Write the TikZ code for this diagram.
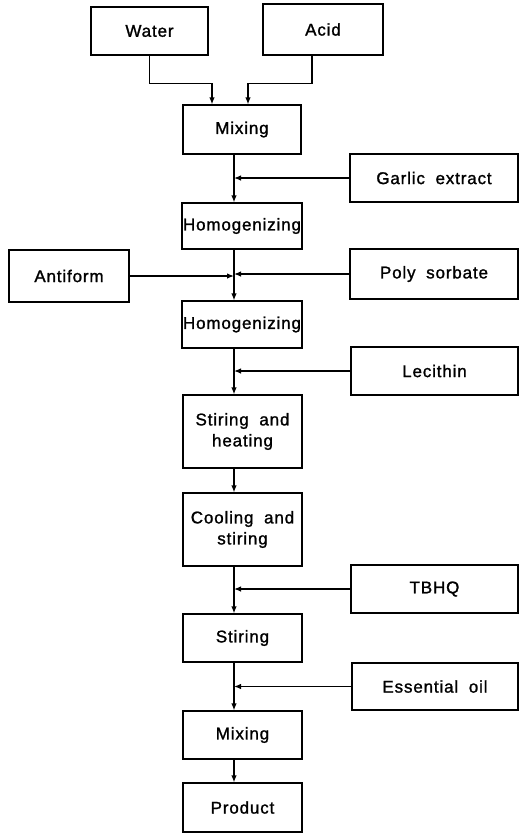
\documentclass[tikz,border=0pt]{standalone}
\usepackage{fontspec}
\setmainfont{Liberation Sans}
\newfontfamily\labfont[LetterSpace=5,WordSpace=1.9,FakeBold=1.3]{Liberation Sans}
\usetikzlibrary{arrows.meta}
\begin{document}
\begin{tikzpicture}[x=1pt,y=-1pt,
  lab/.style={font=\labfont\fontsize{17}{21}\selectfont,align=center},
  box/.style={draw,line width=1.25pt,inner sep=0pt,lab},
  txt/.style={lab,fill=white,inner sep=0pt},
  arr/.style={line width=1.25pt,-{Latex[length=7pt,width=5.5pt]}}]
\useasboundingbox (0,0) rectangle (519,833);
\coordinate (X) at (234,0);
\node[box,minimum width=117,minimum height=48] (water) at (149.5,31) {Water};
\node[box,minimum width=120,minimum height=51] (acid) at (323,29.5) {Acid};
\node[box,minimum width=118,minimum height=49] (mix1) at (242,129.5) {Mixing};
\node[box,minimum width=168,minimum height=48] (garlic) at (434,178) {Garlic extract};
\node[box,minimum width=120,minimum height=46] (homo1) at (242,226) {};
\node[txt] (homo1t) at (homo1) {Homogenizing};
\node[box,minimum width=120,minimum height=52] (antiform) at (69,276) {Antiform};
\node[box,minimum width=168,minimum height=50] (poly) at (434,274) {Poly sorbate};
\node[box,minimum width=120,minimum height=47] (homo2) at (242,324.5) {};
\node[txt] (homo2t) at (homo2) {Homogenizing};
\node[box,minimum width=167,minimum height=48] (lecithin) at (434.5,371) {Lecithin};
\node[box,minimum width=119,minimum height=73] (stirheat) at (242.5,431.5) {Stiring and\\ heating};
\node[box,minimum width=119,minimum height=73] (coolstir) at (242.5,529.5) {Cooling and\\ stiring};
\node[box,minimum width=167,minimum height=48] (tbhq) at (434.5,589) {TBHQ};
\node[box,minimum width=119,minimum height=48] (stir) at (242.5,638) {Stiring};
\node[box,minimum width=166,minimum height=47] (essential) at (435,686.5) {Essential oil};
\node[box,minimum width=119,minimum height=48] (mix2) at (242.5,735) {Mixing};
\node[box,minimum width=119,minimum height=49] (product) at (242.5,807.5) {Product};

% top inputs
\draw[arr] (water.south) -- ++(0,28) -| ([xshift=-30pt]mix1.north);
\draw[arr] ([xshift=-11pt]acid.south) -- ++(0,28) -| ([xshift=6pt]mix1.north);

% main column
\draw[arr] (mix1.south -| X) -- (homo1.north -| X);
\draw[arr] (homo1.south -| X) -- (homo2.north -| X);
\draw[arr] (homo2.south -| X) -- (stirheat.north -| X);
\draw[arr] (stirheat.south -| X) -- (coolstir.north -| X);
\draw[arr] (coolstir.south -| X) -- (stir.north -| X);
\draw[arr] (stir.south -| X) -- (mix2.north -| X);
\draw[arr] (mix2.south -| X) -- (product.north -| X);

% side inputs
\draw[arr] (garlic.west) -- (garlic.west -| X);
\draw[arr] (antiform.east) -- (antiform.east -| X);
\draw[arr] (poly.west) -- (poly.west -| X);
\draw[arr] (lecithin.west) -- (lecithin.west -| X);
\draw[arr] (tbhq.west) -- (tbhq.west -| X);
\draw[arr] (essential.west) -- (essential.west -| X);
\end{tikzpicture}
\end{document}
